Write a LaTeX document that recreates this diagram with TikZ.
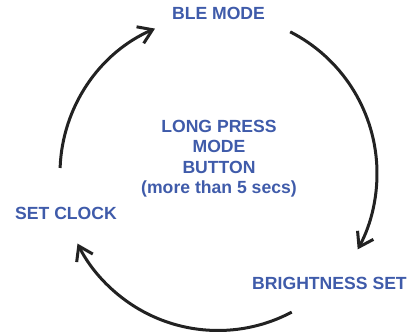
\documentclass[tikz,border=0pt]{standalone}
\usepackage{fontspec}
\setmainfont{Liberation Sans}
\usetikzlibrary{arrows.meta}
\definecolor{lblblue}{HTML}{3F5BAA}
\definecolor{arcdark}{HTML}{222222}
\tikzset{
  lbl/.style={text=lblblue, font=\bfseries\fontsize{17.6}{20}\selectfont, inner sep=0pt, anchor=base},
  cyc/.style={draw=arcdark, line width=3pt, -{Straight Barb[length=13.5pt, width=18pt, line width=3pt]}}
}
\begin{document}
\begin{tikzpicture}[x=1pt,y=1pt]
\useasboundingbox (0,0) rectangle (412,332);
\coordinate (c) at (218,158.5);
\node[lbl] (ble) at (218.5,312) {BLE MODE};
\node[lbl] (clock) at (66,112.7) {SET CLOCK};
\node[lbl] (bright) at (329.5,42.7) {BRIGHTNESS SET};
\node[lbl] (m1) at (219,199.7) {LONG PRESS};
\node[lbl] (m2) at (219,179.2) {MODE};
\node[lbl] (m3) at (219,158.7) {BUTTON};
\node[lbl] (m4) at (219,138.5) {(more than 5 secs)};
\draw[cyc] (c) ++(178:158) arc[start angle=178, end angle=113.5, radius=158];
\draw[cyc] (c) ++(63:159) arc[start angle=63, end angle=-28.5, radius=159];
\draw[cyc] (c) ++(-62:157) arc[start angle=-62, end angle=-153.5, radius=157];
\end{tikzpicture}
\end{document}
